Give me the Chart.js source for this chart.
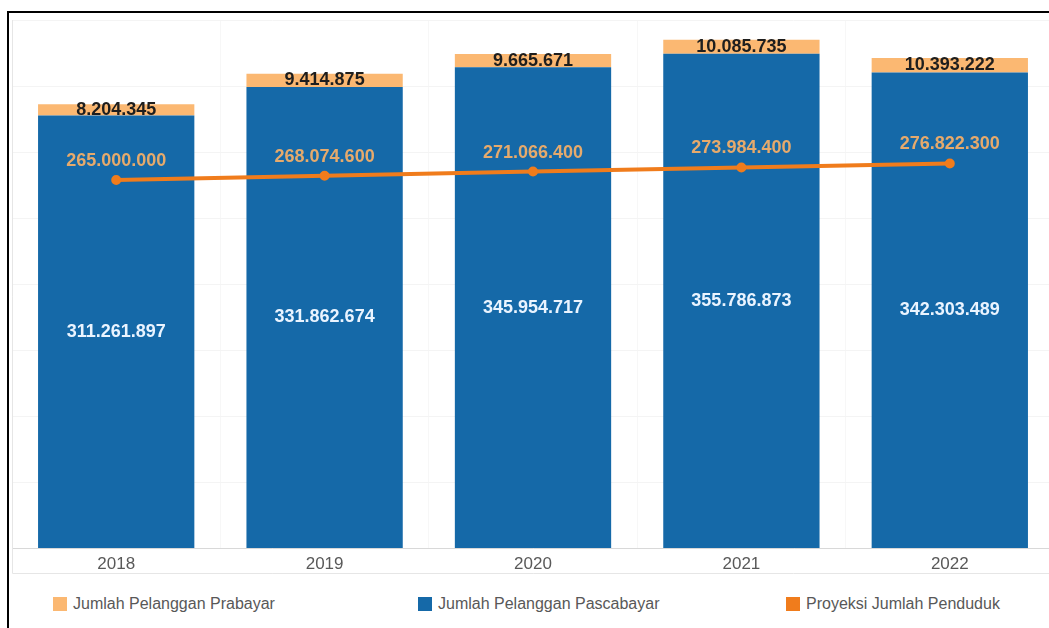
<!DOCTYPE html>
<html>
<head>
<meta charset="utf-8">
<script src="https://cdn.jsdelivr.net/npm/chart.js@4.4.0/dist/chart.umd.min.js"></script>
<style>
  html, body { margin: 0; padding: 0; background: #fff; overflow: hidden; }
  body { width: 1049px; height: 628px; position: relative; font-family: "Liberation Sans", Arial, sans-serif; }
  #frame { position: absolute; left: 7px; top: 11px; width: 1100px; height: 700px;
           border-left: 2px solid #000; border-top: 2px solid #000; pointer-events: none; z-index: 2; }
  #wrap { position: absolute; left: 0; top: 0; width: 1062px; height: 582px; }
  #legend { position: absolute; left: 0; top: 594px; width: 1049px; height: 20px; z-index: 1; }
  .item { position: absolute; top: 0; height: 20px; display: flex; align-items: center; }
  .box { width: 14px; height: 14px; margin-right: 6px; }
  .txt { font-size: 16px; color: #585858; white-space: nowrap; }
</style>
</head>
<body>
<div id="wrap"><canvas id="c"></canvas></div>
<div id="legend"></div>
<div id="frame"></div>
<script>
// Pelanggan seluler dan proyeksi penduduk Indonesia, 2018–2022
const years = ['2018', '2019', '2020', '2021', '2022'];
const prabayar = [8204345, 9414875, 9665671, 10085735, 10393222];
const pascabayar = [311261897, 331862674, 345954717, 355786873, 342303489];
const proyeksi = [265000000, 268074600, 271066400, 273984400, 276822300];

const labelPrabayar = 'Jumlah Pelanggan Prabayar';
const labelPascabayar = 'Jumlah Pelanggan Pascabayar';
const labelProyeksi = 'Proyeksi Jumlah Penduduk';

const colBlue = '#1569a8';
const colPeach = '#fbb872';
const colOrange = '#f07c1c';

const FONT = '"Liberation Sans", Arial, sans-serif';
const TICK_SIZE = 17;
const TICK_PAD = 6;

function fmt(v) {
  return String(Math.round(v)).replace(/\B(?=(\d{3})+(?!\d))/g, '.');
}

// value labels on bars and line points
const valueLabels = {
  id: 'valueLabels',
  afterDatasetsDraw(chart) {
    const ctx = chart.ctx;
    ctx.save();
    ctx.textAlign = 'center';
    ctx.textBaseline = 'middle';
    chart.data.datasets.forEach((ds, di) => {
      const meta = chart.getDatasetMeta(di);
      meta.data.forEach((el, i) => {
        const v = ds.data[i];
        ctx.font = 'bold 18px ' + FONT;
        if (ds.type === 'line') {
          ctx.fillStyle = '#e6aa6c';
          ctx.fillText(fmt(v), el.x, el.y - 19);
        } else {
          const p = el.getCenterPoint();
          ctx.fillStyle = ds.labelColor;
          ctx.fillText(fmt(v), p.x, p.y);
        }
      });
    });
    ctx.restore();
  }
};

// light outline around the plot and the year label band
const plotOutline = {
  id: 'plotOutline',
  beforeDatasetsDraw(chart) {
    const { ctx, chartArea } = chart;
    const base = Math.round(chartArea.bottom + TICK_PAD + TICK_SIZE * 1.2 - 2) + 0.5;
    ctx.save();
    ctx.strokeStyle = '#e6e6e6';
    ctx.lineWidth = 1;
    ctx.beginPath();
    ctx.moveTo(chartArea.left + 0.5, chartArea.top);
    ctx.lineTo(chartArea.left + 0.5, base);
    ctx.lineTo(chartArea.right, base);
    ctx.stroke();
    ctx.restore();
  }
};

const chart = new Chart(document.getElementById('c'), {
  data: {
    labels: years,
    datasets: [
      {
        type: 'line',
        label: labelProyeksi,
        data: proyeksi,
        borderColor: colOrange,
        backgroundColor: colOrange,
        borderWidth: 4,
        pointRadius: 3,
        pointBackgroundColor: colOrange,
        pointBorderColor: colOrange,
        stack: 'penduduk',
        order: 1
      },
      {
        type: 'bar',
        label: labelPascabayar,
        data: pascabayar,
        backgroundColor: colBlue,
        labelColor: '#eaf4ff',
        stack: 'pelanggan',
        order: 2
      },
      {
        type: 'bar',
        label: labelPrabayar,
        data: prabayar,
        backgroundColor: colPeach,
        labelColor: '#1e1e1e',
        stack: 'pelanggan',
        order: 2
      }
    ]
  },
  options: {
    responsive: true,
    maintainAspectRatio: false,
    animation: false,
    layout: { padding: { left: 12, right: 5, top: 20, bottom: 1 } },
    datasets: { bar: { categoryPercentage: 1, barPercentage: 0.75 } },
    plugins: { legend: { display: false }, tooltip: { enabled: false } },
    scales: {
      x: {
        stacked: true,
        offset: true,
        grid: { color: '#f7f7f7', drawTicks: false },
        border: { color: '#d8d8d8' },
        ticks: { color: '#595959', padding: TICK_PAD, font: { family: FONT, size: TICK_SIZE } }
      },
      y: {
        stacked: true,
        min: 0,
        max: 380000000,
        grid: { color: '#f4f4f4', drawTicks: false },
        border: { display: false },
        ticks: { display: false, stepSize: 50000000 }
      }
    }
  },
  plugins: [plotOutline, valueLabels]
});

// legend row
const legendItems = [
  { text: labelPrabayar, color: colPeach, left: 53 },
  { text: labelPascabayar, color: colBlue, left: 418 },
  { text: labelProyeksi, color: colOrange, left: 786 }
];
const legend = document.getElementById('legend');
legendItems.forEach(it => {
  const d = document.createElement('div');
  d.className = 'item';
  d.style.left = it.left + 'px';
  d.innerHTML = '<span class="box" style="background:' + it.color + '"></span><span class="txt">' + it.text + '</span>';
  legend.appendChild(d);
});
</script>
</body>
</html>
